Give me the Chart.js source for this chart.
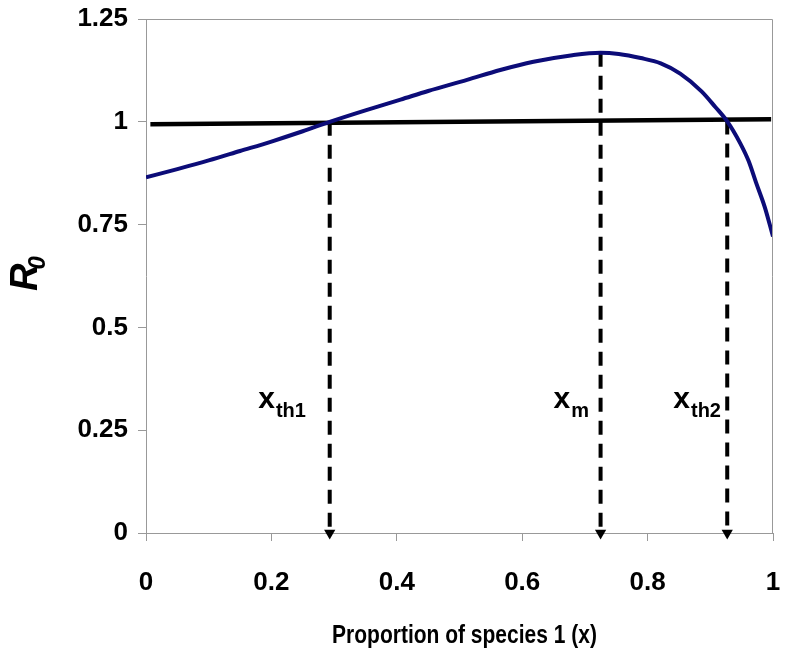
<!DOCTYPE html>
<html>
<head>
<meta charset="utf-8">
<script src="https://cdn.jsdelivr.net/npm/chart.js@4/dist/chart.umd.min.js"></script>
<style>
  html, body { margin: 0; padding: 0; background: #fff; }
  #wrap { width: 785px; height: 656px; }
</style>
</head>
<body>
<div id="wrap"><canvas id="r0-chart"></canvas></div>
<script>
// R0 as a function of the proportion of species 1
var curveX = [0, 0.05, 0.1, 0.15, 0.2, 0.25, 0.293, 0.35, 0.406, 0.45, 0.512, 0.565, 0.618, 0.68, 0.725, 0.754, 0.789, 0.821, 0.852, 0.886, 0.908, 0.927, 0.948, 0.961, 0.973, 0.987, 1.0];
var curveY = [0.865, 0.885, 0.906, 0.929, 0.952, 0.977, 1.0, 1.028, 1.054, 1.075, 1.102, 1.126, 1.146, 1.162, 1.168, 1.165, 1.155, 1.142, 1.117, 1.074, 1.036, 1.001, 0.947, 0.905, 0.852, 0.792, 0.721];

// threshold line R0 = 1
var thresholdX = [0.007, 0.997];
var thresholdY = [0.994, 1.006];

// dashed markers: x position and top of the drop line
var markerNames = ['th1', 'm', 'th2'];
var markerX = [0.293, 0.725, 0.927];
var markerTop = [1.0, 1.168, 1.003];

// marker label anchors (data coords)
var labelX = [0.179, 0.650, 0.841];
var labelY = [0.305, 0.303, 0.305];

var xTickLabels = ['0', '0.2', '0.4', '0.6', '0.8', '1'];
var yTickLabels = ['0', '0.25', '0.5', '0.75', '1', '1.25'];

var plain = "'Liberation Sans', Arial, Helvetica, sans-serif";

function pairs(xs, ys) {
    return xs.map(function (x, i) { return { x: x, y: ys[i] }; });
}

var datasets = [
    {
        label: 'R0',
        data: pairs(curveX, curveY),
        showLine: true,
        borderColor: '#0c0c78',
        borderWidth: 4,
        pointRadius: 0,
        cubicInterpolationMode: 'monotone'
    },
    {
        label: 'threshold',
        data: pairs(thresholdX, thresholdY),
        showLine: true,
        borderColor: '#000',
        borderWidth: 4.5,
        pointRadius: 0
    }
];

markerX.forEach(function (mx, i) {
    datasets.push({
        label: 'x' + markerNames[i],
        data: [{ x: mx, y: markerTop[i] }, { x: mx, y: 0 }],
        showLine: true,
        borderColor: '#000',
        borderWidth: 4,
        borderDash: [14, 9],
        pointStyle: 'triangle',
        pointRotation: 180,
        pointRadius: [0, 6.5],
        pointBackgroundColor: '#000',
        pointBorderWidth: 0,
        clip: false
    });
});

var decorations = {
    id: 'decorations',
    afterDraw: function (chart) {
        var ctx = chart.ctx;
        var a = chart.chartArea;
        var xs = chart.scales.x, ys = chart.scales.y;
        ctx.save();

        // frame on top and right
        ctx.strokeStyle = '#999';
        ctx.lineWidth = 1;
        ctx.beginPath();
        ctx.moveTo(a.left, a.top + 0.5);
        ctx.lineTo(a.right - 0.5, a.top + 0.5);
        ctx.lineTo(a.right - 0.5, a.bottom);
        ctx.stroke();

        ctx.fillStyle = '#000';
        ctx.textBaseline = 'alphabetic';

        // marker labels with subscripts
        markerNames.forEach(function (name, i) {
            var px = xs.getPixelForValue(labelX[i]);
            var py = ys.getPixelForValue(labelY[i]);
            ctx.textAlign = 'left';
            ctx.font = 'bold 30px ' + plain;
            ctx.fillText('x', px, py);
            var w = ctx.measureText('x').width;
            ctx.font = 'bold 20px ' + plain;
            ctx.fillText(name, px + w + 1, py + 9);
        });

        // x axis title, squeezed like the original
        ctx.save();
        ctx.translate((a.left + a.right) / 2 + 5, 643);
        ctx.scale(0.84, 1);
        ctx.textAlign = 'center';
        ctx.font = 'bold 25px ' + plain;
        ctx.fillText('Proportion of species 1 (x)', 0, 0);
        ctx.restore();

        // y axis title R0
        ctx.translate(37, 291);
        ctx.rotate(-Math.PI / 2);
        ctx.textAlign = 'left';
        ctx.font = 'italic bold 38px ' + plain;
        ctx.fillText('R', 0, 0);
        var rw = ctx.measureText('R').width;
        ctx.font = 'italic bold 24px ' + plain;
        ctx.fillText('0', rw - 6, 8);

        ctx.restore();
    }
};

var tickFont = { family: plain, size: 26, weight: 'bold' };

new Chart(document.getElementById('r0-chart'), {
    type: 'scatter',
    data: { datasets: datasets },
    plugins: [decorations],
    options: {
        responsive: true,
        maintainAspectRatio: false,
        animation: false,
        layout: { padding: { top: 19, right: 12, left: 0, bottom: 0 } },
        plugins: {
            legend: { display: false },
            tooltip: { enabled: false }
        },
        scales: {
            x: {
                type: 'linear',
                min: 0,
                max: 1,
                afterFit: function (scale) {
                    scale.height = 123;
                    scale.paddingLeft = 0;
                    scale.paddingRight = 0;
                },
                ticks: {
                    stepSize: 0.2,
                    color: '#000',
                    padding: 26,
                    font: tickFont,
                    callback: function (value, index) { return xTickLabels[index]; }
                },
                grid: { drawOnChartArea: false, drawTicks: true, tickLength: 8, color: '#999' },
                border: { color: '#999', width: 1 }
            },
            y: {
                type: 'linear',
                min: 0,
                max: 1.25,
                afterFit: function (scale) {
                    scale.width = 146;
                    scale.paddingTop = 0;
                    scale.paddingBottom = 0;
                },
                ticks: {
                    stepSize: 0.25,
                    color: '#000',
                    padding: 10,
                    font: tickFont,
                    callback: function (value, index) { return yTickLabels[index]; }
                },
                grid: { drawOnChartArea: false, drawTicks: true, tickLength: 8, color: '#999' },
                border: { color: '#999', width: 1 }
            }
        }
    }
});
</script>
</body>
</html>
